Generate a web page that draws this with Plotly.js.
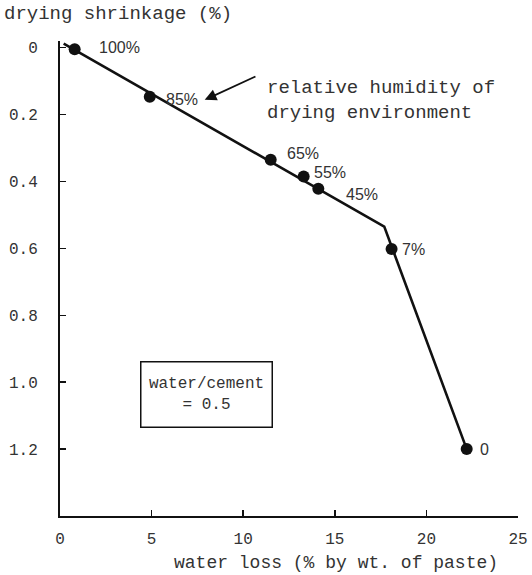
<!DOCTYPE html>
<html><head><meta charset="utf-8">
<script src="https://cdn.plot.ly/plotly-3.0.1.min.js"></script>
<style>body{margin:0;background:#fff}#chart{width:532px;height:575px}</style>
</head><body><div id="chart"></div>
<script>
// Data
const waterLoss = [0.8, 4.9, 11.5, 13.3, 14.1, 18.1, 22.2];
const shrinkage = [0.005, 0.147, 0.335, 0.385, 0.422, 0.602, 1.20];
const humidityLabels = ['100%', '85%', '65%', '55%', '45%', '7%', '0'];
// Fitted line drawn through the data (with its kink)
const lineX = [0.2, 17.7, 22.2];
const lineY = [-0.012, 0.535, 1.20];
const xTicks = [0, 5, 10, 15, 20, 25];
const yTicks = [0, 0.2, 0.4, 0.6, 0.8, 1.0, 1.2];
const yTickText = ['0', '0.2', '0.4', '0.6', '0.8', '1.0', '1.2'];

// label offsets (px): [xshift, yshift]
const labelOffsets = [[22, 2], [14, -3], [14, 6], [8, 4], [26, -6], [8, 0], [11, 0]];

const mono = 'Liberation Mono, DejaVu Sans Mono, monospace';
const hand = 'Liberation Sans, DejaVu Sans, sans-serif';

const traces = [
  {x: lineX, y: lineY, mode: 'lines', line: {color: '#111', width: 2.6}, hoverinfo: 'skip'},
  {x: waterLoss, y: shrinkage, mode: 'markers', marker: {color: '#111', size: 12}}
];

const annotations = humidityLabels.map((t, i) => ({
  x: waterLoss[i], y: shrinkage[i], xref: 'x', yref: 'y', text: t, showarrow: false,
  xanchor: 'left', yanchor: 'middle', xshift: labelOffsets[i][0], yshift: labelOffsets[i][1],
  font: {family: hand, size: 16, color: '#333'}
}));

annotations.push({
  x: 11.19, y: 0.158, xref: 'x', yref: 'y', xanchor: 'left', yanchor: 'middle', align: 'left',
  text: 'relative humidity of<br>drying environment', showarrow: false,
  font: {family: mono, size: 19, color: '#333'}
});
annotations.push({
  x: 7.9, y: 0.156, xref: 'x', yref: 'y', ax: 10.75, ay: 0.084, axref: 'x', ayref: 'y',
  text: '', showarrow: true, arrowhead: 2, arrowsize: 1.3, arrowwidth: 1.8, arrowcolor: '#111'
});
annotations.push({
  x: 8.02, y: 1.036, xref: 'x', yref: 'y', text: 'water/cement<br>= 0.5', showarrow: false,
  width: 128, height: 62, bordercolor: '#111', borderwidth: 1.5, borderpad: 1, align: 'center',
  font: {family: mono, size: 16, color: '#333'}, bgcolor: '#fff'
});
annotations.push({
  x: -0.127, y: 1.057, xref: 'paper', yref: 'paper', xanchor: 'left', yanchor: 'middle',
  text: 'drying shrinkage (%)', showarrow: false, font: {family: mono, size: 19, color: '#333'}
});
annotations.push({
  x: 0.603, y: -0.099, xref: 'paper', yref: 'paper', xanchor: 'center', yanchor: 'middle',
  text: 'water loss (% by wt. of paste)', showarrow: false, font: {family: mono, size: 18, color: '#333'}
});

const layout = {
  width: 532, height: 575, showlegend: false,
  paper_bgcolor: '#fff', plot_bgcolor: '#fff',
  margin: {l: 60, r: 14, t: 41, b: 59},
  xaxis: {range: [0, 25], tickvals: xTicks, ticks: 'inside', ticklen: 6, tickwidth: 1.5, tickcolor: '#111',
    showline: true, linecolor: '#111', linewidth: 2, showgrid: false, zeroline: false,
    ticklabelstandoff: 7, tickfont: {family: mono, size: 16, color: '#333'}},
  yaxis: {range: [1.40, -0.02], tickvals: yTicks, ticktext: yTickText, ticks: 'inside', ticklen: 6, tickwidth: 1.5,
    tickcolor: '#111', showline: true, linecolor: '#111', linewidth: 2, showgrid: false, zeroline: false,
    ticklabelstandoff: 17, tickfont: {family: mono, size: 16, color: '#333'}},
  annotations: annotations
};

Plotly.newPlot('chart', traces, layout, {displayModeBar: false, staticPlot: true});
</script></body></html>
